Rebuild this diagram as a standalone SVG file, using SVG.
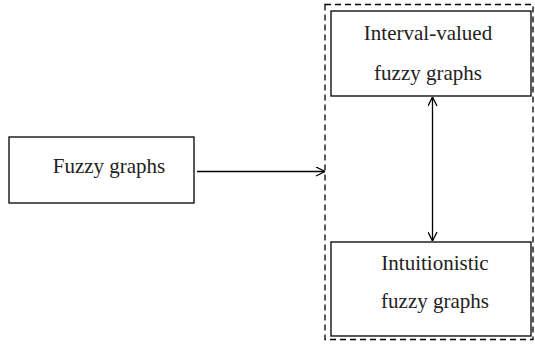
<svg xmlns="http://www.w3.org/2000/svg" width="535" height="344" viewBox="0 0 535 344">
<style>
.box{fill:#fff;stroke:#000;stroke-width:1.3}
.t{font-family:"Liberation Serif","DejaVu Serif",serif;font-size:21px;fill:#222;text-anchor:middle}
.c{fill:none;stroke:#000;stroke-width:1.3}
</style>
<defs>
<marker id="ah" viewBox="0 0 10 10" refX="10" refY="5" markerWidth="10" markerHeight="10" markerUnits="userSpaceOnUse" orient="auto-start-reverse">
<path d="M1,0.5 L10,5 L1,9.5" fill="none" stroke="#000" stroke-width="1.3"/>
</marker>
</defs>
<rect x="325" y="4.5" width="208" height="335" fill="none" stroke="#000" stroke-width="1.3" stroke-dasharray="6,4"/>
<g id="fuzzy">
<rect class="box" x="9" y="137" width="185" height="66"/>
<text class="t" x="109" y="173">Fuzzy graphs</text>
</g>
<g id="interval">
<rect class="box" x="331" y="11" width="200" height="85"/>
<text class="t" x="428" y="40">Interval-valued</text>
<text class="t" x="428" y="80">fuzzy graphs</text>
</g>
<g id="intuitionistic">
<rect class="box" x="331" y="242" width="200" height="94"/>
<text class="t" x="435" y="270">Intuitionistic</text>
<text class="t" x="435" y="308">fuzzy graphs</text>
</g>
<g id="connectors">
<line class="c" x1="197" y1="171.5" x2="325" y2="171.5" marker-end="url(#ah)"/>
<line class="c" x1="432.5" y1="97" x2="432.5" y2="241" marker-start="url(#ah)" marker-end="url(#ah)"/>
</g>
</svg>
